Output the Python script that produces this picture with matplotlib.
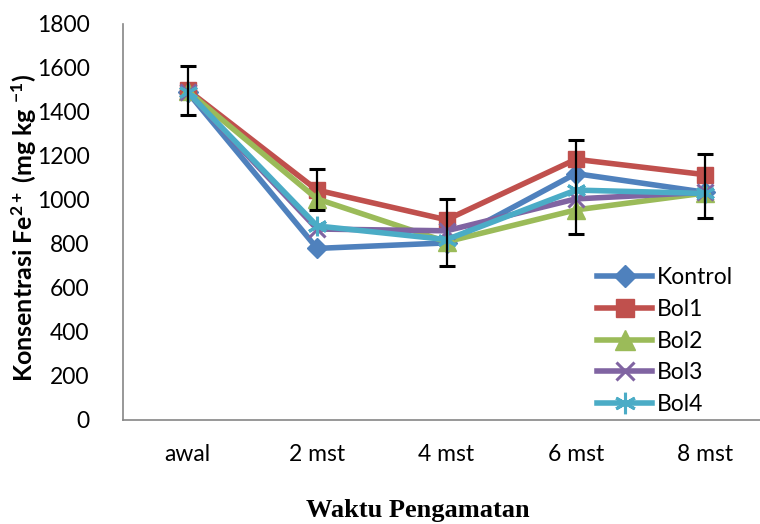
import matplotlib
matplotlib.use("Agg")
import matplotlib.pyplot as plt
import numpy as np

plt.rcParams["mathtext.fontset"] = "custom"
plt.rcParams["mathtext.rm"] = "Lato:bold"
plt.rcParams["mathtext.bf"] = "Lato:bold"
plt.rcParams["mathtext.it"] = "Lato:bold"

categories = ["awal", "2 mst", "4 mst", "6 mst", "8 mst"]
series_names = ["Kontrol", "Bol1", "Bol2", "Bol3", "Bol4"]
kontrol = [1490, 780, 805, 1120, 1035]
bol1 = [1500, 1045, 910, 1185, 1115]
bol2 = [1495, 1005, 810, 955, 1032]
bol3 = [1490, 868, 860, 1005, 1035]
bol4 = [1490, 882, 820, 1045, 1030]
err_low = [115, 90, 210, 340, 197]
err_high = [110, 95, 95, 90, 95]

colors = ["#4F81BD", "#C0504D", "#9BBB59", "#8064A2", "#4BACC6"]
markers = ["D", "s", "^", "x", (6, 2, 0)]
msizes = [10, 12, 13, 12, 14]

fig = plt.figure(figsize=(7.6, 5.24), dpi=100)
ax = fig.add_axes([123/760, (524-420)/524, (770-123)/760, (420-24)/524])
x = np.arange(len(categories))
data = [kontrol, bol1, bol2, bol3, bol4]

for vals, name, c, m, ms in zip(data, series_names, colors, markers, msizes):
    kw = {}
    if m in ("x",) or isinstance(m, tuple):
        kw = dict(markeredgewidth=2.2)
    ax.plot(x, vals, color=c, lw=4.0, marker=m, markersize=ms, label=name,
            markeredgecolor=c, markerfacecolor=c, zorder=3, **kw)

ax.errorbar(x, bol1, yerr=[err_low, err_high], fmt="none", ecolor="black",
            elinewidth=1.6, capsize=5.5, capthick=2.2, zorder=4)

ax.set_xlim(-0.5, 4.5)
ax.set_ylim(0, 1800)
ax.set_yticks(np.arange(0, 1801, 200))
ax.set_xticks(x)
ax.set_xticklabels(categories)
ax.tick_params(axis="both", length=0, labelsize=16.5, colors="black")
ax.tick_params(axis="y", pad=24)
ax.tick_params(axis="x", pad=17)
for lab in ax.get_xticklabels() + ax.get_yticklabels():
    lab.set_fontfamily("Lato")
for s in ["top", "right"]:
    ax.spines[s].set_visible(False)
for s in ["left", "bottom"]:
    ax.spines[s].set_color("#868686")
    ax.spines[s].set_linewidth(1.2)

fig.text(24/760, 1-228/524, r"Konsentrasi Fe$^{2+}$ (mg kg $^{-1}$)",
         rotation=90, ha="center", va="center", fontsize=18, fontweight="bold",
         fontfamily="Lato")
fig.text(418/760, 1-511/524, "Waktu Pengamatan", ha="center", va="center",
         fontsize=19, fontweight="bold", fontfamily="Liberation Serif")

leg = ax.legend(loc="upper left", bbox_to_anchor=(597/760, 1-267/524),
                bbox_transform=fig.transFigure, frameon=False,
                prop={"family": "Lato", "size": 16.5}, handlelength=2.4,
                handletextpad=0.2, labelspacing=0.47, borderaxespad=0,
                borderpad=0, markerscale=1.1)

fig.savefig("out.png", dpi=100)
